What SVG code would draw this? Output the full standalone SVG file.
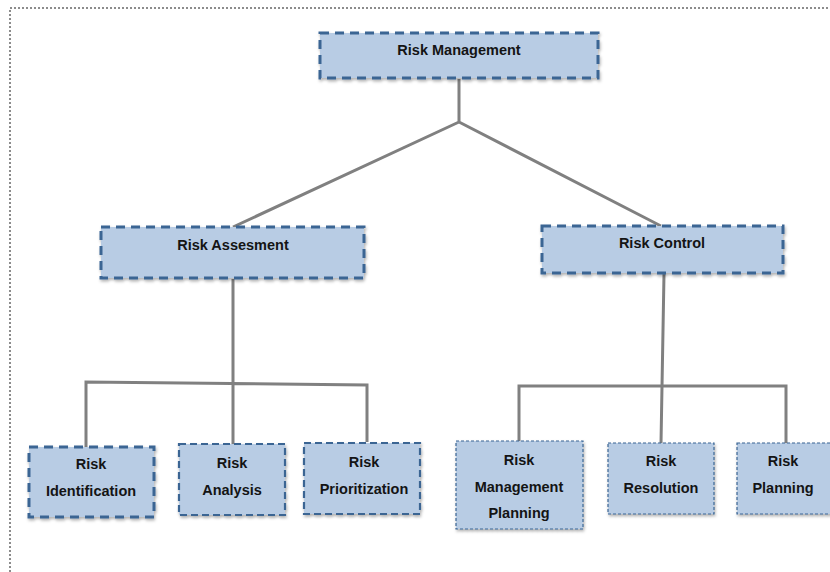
<svg xmlns="http://www.w3.org/2000/svg" width="830" height="572" viewBox="0 0 830 572">
<defs>
<filter id="sh" x="-10%" y="-10%" width="130%" height="140%">
<feDropShadow dx="1" dy="2" stdDeviation="1.5" flood-color="#000" flood-opacity="0.3"/>
</filter>
</defs>
<style>
.frame{fill:none;stroke:#8c8c8c;stroke-width:2;stroke-dasharray:2 2}
.box{fill:#b8cce4;filter:url(#sh)}
.thick{stroke:#3a6593;stroke-width:3;stroke-dasharray:9 6}
.mid{stroke:#3a6593;stroke-width:2.2;stroke-dasharray:7 4}
.thin{stroke:#3a6593;stroke-width:1.2;stroke-dasharray:3 2}
.lbl{font-family:"Liberation Sans",Arial,sans-serif;font-weight:bold;font-size:14.5px;fill:#141414;text-anchor:middle}
.conn{fill:none;stroke:#808080;stroke-width:3;stroke-linejoin:miter}
</style>
<rect width="830" height="572" fill="#fff"/>
<path class="frame" d="M10,572 V8 H830"/>
<g id="connectors">
<path class="conn" d="M459,79 V122 M459,122 L233,227 M459,122 L661,226"/>
<path class="conn" d="M233,279 V444 M86,447 V382 L367,385 V442"/>
<path class="conn" d="M664,274 L661,443 M519,441 V386 H786 V443"/>
</g>
<g id="risk-management">
<rect class="box thick" x="320" y="33" width="278" height="45"/>
<text class="lbl" x="459" y="55">Risk Management</text>
</g>
<g id="risk-assesment">
<rect class="box thick" x="101" y="227" width="263" height="51"/>
<text class="lbl" x="233" y="250">Risk Assesment</text>
</g>
<g id="risk-control">
<rect class="box thick" x="542" y="226" width="241" height="47"/>
<text class="lbl" x="662" y="248">Risk Control</text>
</g>
<g id="risk-identification">
<rect class="box thick" x="29" y="447" width="125" height="70"/>
<text class="lbl" x="91" y="469">Risk</text>
<text class="lbl" x="91" y="496">Identification</text>
</g>
<g id="risk-analysis">
<rect class="box mid" x="179" y="444" width="106" height="71"/>
<text class="lbl" x="232" y="468">Risk</text>
<text class="lbl" x="232" y="495">Analysis</text>
</g>
<g id="risk-prioritization">
<rect class="box mid" x="304" y="443" width="116" height="71"/>
<text class="lbl" x="364" y="467">Risk</text>
<text class="lbl" x="364" y="494">Prioritization</text>
</g>
<g id="risk-management-planning">
<rect class="box thin" x="456" y="441" width="127" height="88"/>
<text class="lbl" x="519" y="465">Risk</text>
<text class="lbl" x="519" y="492">Management</text>
<text class="lbl" x="519" y="518">Planning</text>
</g>
<g id="risk-resolution">
<rect class="box thin" x="608" y="443" width="106" height="71"/>
<text class="lbl" x="661" y="466">Risk</text>
<text class="lbl" x="661" y="493">Resolution</text>
</g>
<g id="risk-planning">
<rect class="box thin" x="737" y="443" width="95" height="71"/>
<text class="lbl" x="783" y="466">Risk</text>
<text class="lbl" x="783" y="493">Planning</text>
</g>
</svg>
